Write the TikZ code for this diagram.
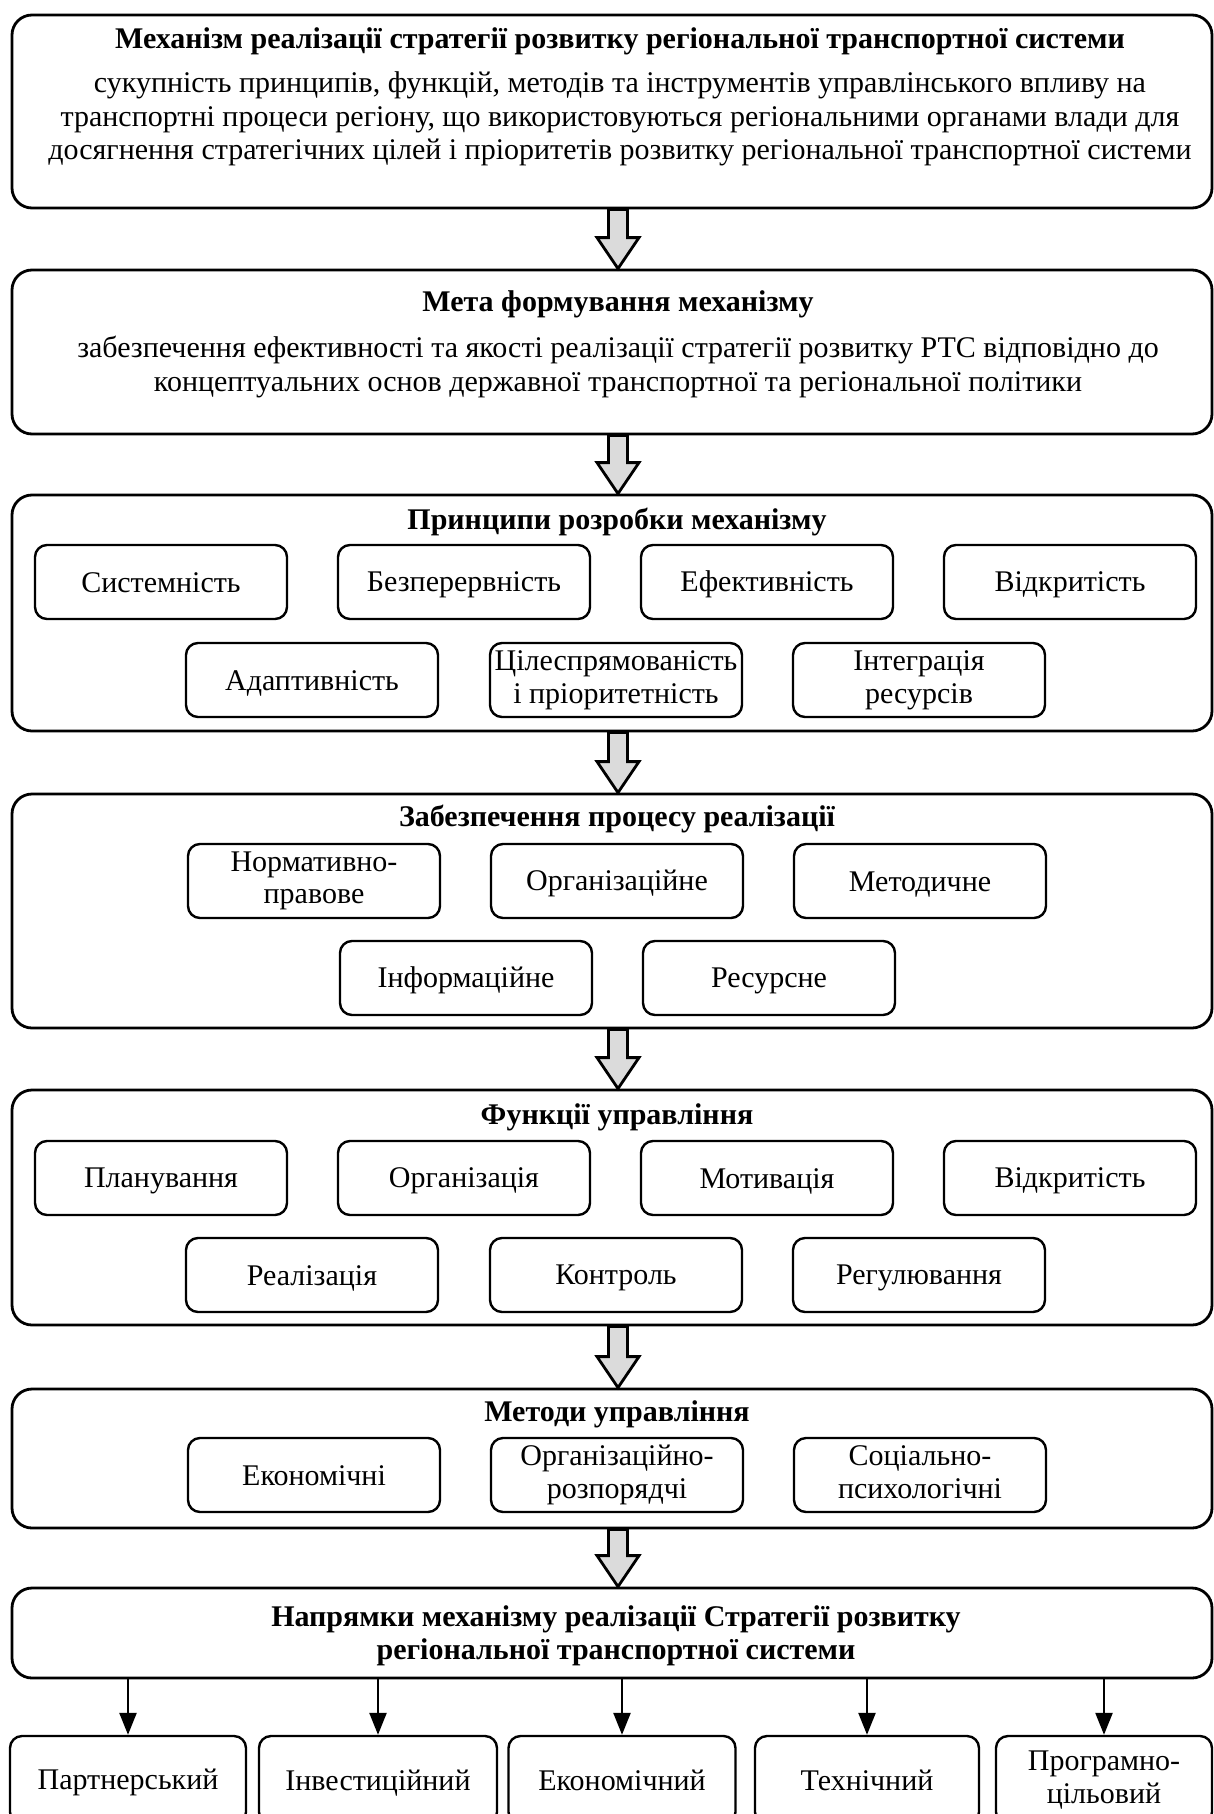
\documentclass[tikz,border=0pt]{standalone}
\usepackage{fontspec}
\setmainfont{Liberation Serif}
\usetikzlibrary{arrows.meta,calc,fit}
\definecolor{arrowgray}{gray}{0.86}
\newcommand{\boxstrut}{\rule[-3pt]{0pt}{16pt}}
\tikzset{
    bigbox/.style={draw, line width=1.4pt, rounded corners=10pt, inner sep=0pt},
    smallbox/.style={draw, line width=1.2pt, rounded corners=6pt, minimum width=126pt, minimum height=37pt,
        align=center, inner sep=1pt, font=\fontsize{15}{16.3}\selectfont,
        execute at begin node=\boxstrut, execute at end node=\boxstrut},
    headtxt/.style={font=\fontsize{15}{16.5}\selectfont\bfseries, align=center, inner sep=0pt},
    bodytxt/.style={font=\fontsize{15}{16.8}\selectfont, align=center, inner sep=0pt},
    bigarr/.style={draw, line width=1.4pt, fill=arrowgray, line join=miter},
    smallarr/.style={-{Triangle[width=8.5pt,length=11pt]}, line width=1.2pt}
}
\newcommand{\bigarrow}[2]{%
    \path [bigarr] let \p1=([xshift=3pt]#1.south), \p2=([xshift=3pt]#2.north) in
        (\x1-4.75pt,\y1) -- (\x1-4.75pt,\y2+15.5pt) -- (\x1-10.5pt,\y2+15.5pt) -- (\x1,\y2)
        -- (\x1+10.5pt,\y2+15.5pt) -- (\x1+4.75pt,\y2+15.5pt) -- (\x1+4.75pt,\y1) -- cycle;}
\begin{document}
\begin{tikzpicture}[x=0.5pt, y=-0.5pt]
    \useasboundingbox (0,0) rectangle (1214,1814);
    % outer frames
    \node [bigbox, fit={(12,15) (1212,208)}] (mech) {};
    \node [bigbox, fit={(12,270) (1212,434)}] (goal) {};
    \node [bigbox, fit={(12,495) (1212,731)}] (princ) {};
    \node [bigbox, fit={(12,794) (1212,1028)}] (supp) {};
    \node [bigbox, fit={(12,1090) (1212,1325)}] (func) {};
    \node [bigbox, fit={(12,1389) (1212,1528)}] (meth) {};
    \node [bigbox, fit={(12,1588) (1212,1678)}] (dirs) {};
    \bigarrow{mech}{goal}
    \bigarrow{goal}{princ}
    \bigarrow{princ}{supp}
    \bigarrow{supp}{func}
    \bigarrow{func}{meth}
    \bigarrow{meth}{dirs}
    % texts of the frames
    \node [headtxt] (mechhead) at (620,41) {Механізм реалізації стратегії розвитку регіональної транспортної системи};
    \node [bodytxt] (mechbody) at (620,119) {сукупність принципів, функцій, методів та інструментів управлінського впливу на\\
        транспортні процеси регіону, що використовуються регіональними органами влади для\\
        досягнення стратегічних цілей і пріоритетів розвитку регіональної транспортної системи};
    \node [headtxt] (goalhead) at (618,304) {Мета формування механізму};
    \node [bodytxt] (goalbody) at (618,367) {забезпечення ефективності та якості реалізації стратегії розвитку РТС відповідно до\\
        концептуальних основ  державної транспортної та регіональної політики};
    \node [headtxt] (princhead) at (617,522) {Принципи розробки механізму};
    \node [headtxt] (supphead) at (617,819) {Забезпечення процесу реалізації};
    \node [headtxt] (funchead) at (617,1117) {Функції управління};
    \node [headtxt] (methhead) at (617,1414) {Методи управління};
    \node [headtxt] (dirshead) at (616,1636) {Напрямки механізму реалізації Стратегії розвитку\\регіональної транспортної системи};
    % principles
    \node [smallbox] (p1) at (161,582) {Системність};
    \node [smallbox] (p2) at (464,582) {Безперервність};
    \node [smallbox] (p3) at (767,582) {Ефективність};
    \node [smallbox] (p4) at (1070,582) {Відкритість};
    \node [smallbox] (p5) at (312,680) {Адаптивність};
    \node [smallbox] (p6) at (616,680) {Цілеспрямованість\\і пріоритетність};
    \node [smallbox] (p7) at (919,680) {Інтеграція\\ресурсів};
    % support
    \node [smallbox] (s1) at (314,881) {Нормативно-\\правове};
    \node [smallbox] (s2) at (617,881) {Організаційне};
    \node [smallbox] (s3) at (920,881) {Методичне};
    \node [smallbox] (s4) at (466,978) {Інформаційне};
    \node [smallbox] (s5) at (769,978) {Ресурсне};
    % functions
    \node [smallbox] (f1) at (161,1178) {Планування};
    \node [smallbox] (f2) at (464,1178) {Організація};
    \node [smallbox] (f3) at (767,1178) {Мотивація};
    \node [smallbox] (f4) at (1070,1178) {Відкритість};
    \node [smallbox] (f5) at (312,1275) {Реалізація};
    \node [smallbox] (f6) at (616,1275) {Контроль};
    \node [smallbox] (f7) at (919,1275) {Регулювання};
    % methods
    \node [smallbox] (m1) at (314,1475) {Економічні};
    \node [smallbox] (m2) at (617,1475) {Організаційно-\\розпорядчі};
    \node [smallbox] (m3) at (920,1475) {Соціально-\\психологічні};
    % directions (their lower edge lies below the page)
    \node [smallbox, minimum width=118pt, minimum height=44pt] (d1) at (128,1780) {Партнерський};
    \node [smallbox, minimum width=119pt, minimum height=44pt] (d2) at (378,1780) {Інвестиційний};
    \node [smallbox, minimum width=113.5pt, minimum height=44pt] (d3) at (622,1780) {Економічний};
    \node [smallbox, minimum width=112pt, minimum height=44pt] (d4) at (867,1780) {Технічний};
    \node [smallbox, minimum width=108pt, minimum height=44pt] (d5) at (1104,1780) {Програмно-\\цільовий};
    \foreach \d in {d1,d2,d3,d4,d5}
        \draw [smallarr] (\d.north |- dirs.south) -- (\d.north);
\end{tikzpicture}
\end{document}
